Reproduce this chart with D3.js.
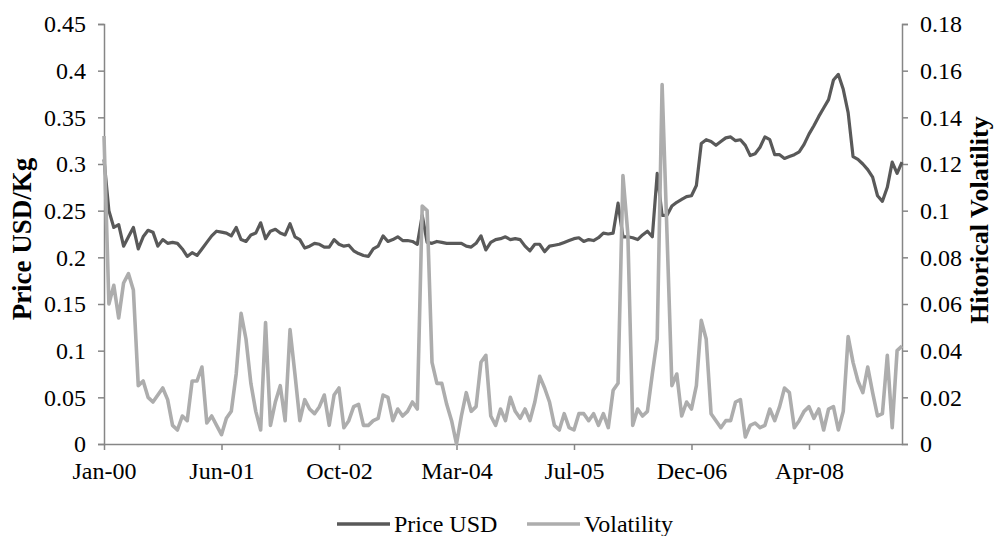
<!DOCTYPE html>
<html>
<head>
<meta charset="utf-8">
<script src="https://cdn.jsdelivr.net/npm/d3@7"></script>
<style>
  body { margin: 0; background: #fff; }
  text { font-family: "Liberation Serif", "Times New Roman", serif; fill: #000; }
</style>
</head>
<body>
<div id="chart"></div>
<script>
// weekly-ish samples, Jan-2000 .. mid-2009 (category axis)
const xLabels = ["Jan-00", "Jun-01", "Oct-02", "Mar-04", "Jul-05", "Dec-06", "Apr-08"];
const xLabelIndex = [0, 24, 48, 72, 96, 120, 144];

const priceTicks = [0, 0.05, 0.1, 0.15, 0.2, 0.25, 0.3, 0.35, 0.4, 0.45];
const volTicks = [0, 0.02, 0.04, 0.06, 0.08, 0.1, 0.12, 0.14, 0.16, 0.18];

const price = [
  0.305, 0.25, 0.232, 0.235, 0.212, 0.222, 0.232, 0.209, 0.222, 0.229,
  0.227, 0.212, 0.219, 0.215, 0.216, 0.215, 0.209, 0.201, 0.205, 0.202,
  0.209, 0.216, 0.223, 0.228, 0.227, 0.226, 0.223, 0.232, 0.219, 0.217,
  0.224, 0.226, 0.237, 0.22, 0.228, 0.230, 0.226, 0.224, 0.236, 0.222,
  0.219, 0.210, 0.212, 0.215, 0.214, 0.211, 0.211, 0.219, 0.214, 0.212,
  0.213, 0.207, 0.204, 0.202, 0.201, 0.209, 0.212, 0.223, 0.217, 0.219,
  0.222, 0.218, 0.218, 0.217, 0.214, 0.245, 0.216, 0.215, 0.217, 0.216,
  0.215, 0.215, 0.215, 0.215, 0.212, 0.211, 0.215, 0.223, 0.208, 0.216,
  0.219, 0.220, 0.222, 0.219, 0.220, 0.219, 0.212, 0.207, 0.214, 0.214,
  0.206, 0.212, 0.213, 0.214, 0.216, 0.218, 0.220, 0.221, 0.217, 0.219,
  0.218, 0.221, 0.226, 0.225, 0.226, 0.258, 0.222, 0.222, 0.221, 0.219,
  0.224, 0.228, 0.222, 0.29, 0.245, 0.245, 0.255, 0.259, 0.262, 0.265,
  0.266, 0.277, 0.322, 0.326, 0.324, 0.320, 0.324, 0.328, 0.329, 0.325,
  0.326, 0.32, 0.309, 0.311, 0.318, 0.329, 0.326, 0.310, 0.310, 0.306,
  0.308, 0.310, 0.313, 0.321, 0.332, 0.341, 0.351, 0.36, 0.369, 0.390,
  0.396, 0.380, 0.355, 0.308, 0.305, 0.300, 0.294, 0.286, 0.266, 0.26,
  0.275, 0.302, 0.29, 0.302
];

const volatility = [
  0.132, 0.06, 0.068, 0.054, 0.069, 0.073, 0.066, 0.025, 0.027, 0.02,
  0.018, 0.021, 0.024, 0.019, 0.008, 0.006, 0.012, 0.01, 0.027, 0.027,
  0.033, 0.009, 0.012, 0.008, 0.004, 0.011, 0.014, 0.03, 0.056, 0.045,
  0.026, 0.014, 0.006, 0.052, 0.008, 0.018, 0.025, 0.01, 0.049, 0.03,
  0.01, 0.019, 0.015, 0.013, 0.016, 0.021, 0.008, 0.021, 0.024, 0.007,
  0.01, 0.016, 0.017, 0.008, 0.008, 0.01, 0.011, 0.021, 0.02, 0.01,
  0.015, 0.012, 0.014, 0.018, 0.015, 0.102, 0.1, 0.035, 0.026, 0.026,
  0.017, 0.01, 0.0, 0.012, 0.022, 0.014, 0.016, 0.035, 0.038, 0.012,
  0.008, 0.015, 0.01, 0.02, 0.014, 0.011, 0.015, 0.01, 0.018, 0.029,
  0.024, 0.018, 0.008, 0.006, 0.013, 0.007, 0.006, 0.013, 0.013, 0.01,
  0.013, 0.008, 0.013, 0.007, 0.023, 0.026, 0.115, 0.09, 0.008, 0.015,
  0.012, 0.014, 0.03, 0.045, 0.154, 0.09, 0.025, 0.03, 0.012, 0.018,
  0.015, 0.025, 0.053, 0.045, 0.013, 0.01, 0.007, 0.01, 0.01, 0.018,
  0.019, 0.003, 0.008, 0.009, 0.007, 0.008, 0.015, 0.01, 0.016, 0.024,
  0.022, 0.007, 0.01, 0.014, 0.016, 0.011, 0.015, 0.006, 0.015, 0.016,
  0.006, 0.014, 0.046, 0.035, 0.027, 0.022, 0.033, 0.022, 0.012, 0.013,
  0.038, 0.007, 0.04, 0.042
];

const W = 997, H = 536;
const margin = { top: 24, right: 95, bottom: 92, left: 104 };
const width = W - margin.left - margin.right;
const height = H - margin.top - margin.bottom;

const axisColor = "#868686";
const priceColor = "#595959";
const volColor = "#adadad";

const svg = d3.select("#chart").append("svg")
  .attr("width", W)
  .attr("height", H);

const g = svg.append("g")
  .attr("transform", `translate(${margin.left},${margin.top})`);

const x = d3.scaleLinear().domain([0, price.length - 1]).range([0, width]);
const yPrice = d3.scaleLinear().domain([0, 0.45]).range([height, 0]);
const yVol = d3.scaleLinear().domain([0, 0.18]).range([height, 0]);

function styleAxis(sel) {
  sel.select(".domain").attr("stroke", axisColor).attr("stroke-width", 1.5);
  sel.selectAll(".tick line").attr("stroke", axisColor).attr("stroke-width", 1.5);
  sel.selectAll(".tick text")
    .style("font-size", "24px")
    .style("font-family", '"Liberation Serif", serif')
    .attr("fill", "#000");
}

// eixo X
g.append("g")
  .attr("transform", `translate(0,${height})`)
  .call(d3.axisBottom(x)
    .tickValues(xLabelIndex)
    .tickFormat((d, i) => xLabels[i])
    .tickSizeInner(6).tickSizeOuter(0).tickPadding(12))
  .call(styleAxis);

// eixo Y esquerdo
g.append("g")
  .call(d3.axisLeft(yPrice)
    .tickValues(priceTicks)
    .tickFormat(d => String(d))
    .tickSizeInner(6).tickSizeOuter(6).tickPadding(12))
  .call(styleAxis);

// eixo Y direito
g.append("g")
  .attr("transform", `translate(${width},0)`)
  .call(d3.axisRight(yVol)
    .tickValues(volTicks)
    .tickFormat(d => String(d))
    .tickSizeInner(6).tickSizeOuter(6).tickPadding(12))
  .call(styleAxis);

const priceLine = d3.line()
  .x((d, i) => x(i))
  .y(d => yPrice(d));

const volLine = d3.line()
  .x((d, i) => x(i))
  .y(d => yVol(d));

g.append("path")
  .datum(price)
  .attr("fill", "none")
  .attr("stroke", priceColor)
  .attr("stroke-width", 3.2)
  .attr("stroke-linejoin", "round")
  .attr("d", priceLine);

g.append("path")
  .datum(volatility)
  .attr("fill", "none")
  .attr("stroke", volColor)
  .attr("stroke-width", 3.6)
  .attr("stroke-linejoin", "round")
  .attr("d", volLine);

// titulos dos eixos
svg.append("text")
  .attr("transform", "translate(31,239) rotate(-90)")
  .attr("text-anchor", "middle")
  .style("font-size", "27px")
  .style("font-weight", "bold")
  .text("Price USD/Kg");

svg.append("text")
  .attr("transform", "translate(988,220) rotate(-90)")
  .attr("text-anchor", "middle")
  .style("font-size", "26px")
  .style("font-weight", "bold")
  .text("Hitorical Volatility");

// legenda
const legendItems = [
  { name: "Price USD", color: priceColor, x: 337 },
  { name: "Volatility", color: volColor, x: 527 }
];
const legend = svg.append("g").attr("transform", "translate(0,524)");
legendItems.forEach(item => {
  legend.append("line")
    .attr("x1", item.x).attr("x2", item.x + 53)
    .attr("y1", 0).attr("y2", 0)
    .attr("stroke", item.color)
    .attr("stroke-width", 3.5);
  legend.append("text")
    .attr("x", item.x + 57)
    .attr("y", 8)
    .style("font-size", "24px")
    .text(item.name);
});
</script>
</body>
</html>
